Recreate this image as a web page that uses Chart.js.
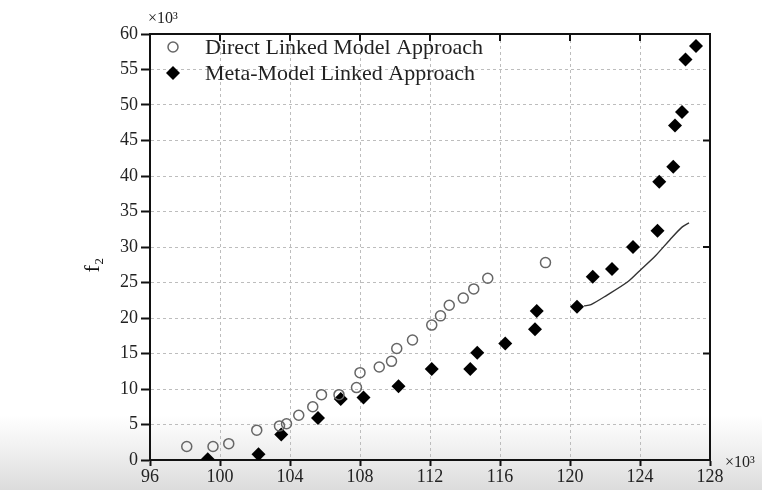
<!DOCTYPE html>
<html>
<head>
<meta charset="utf-8">
<script src="https://cdn.jsdelivr.net/npm/chart.js@4.4.1/dist/chart.umd.min.js"></script>
<style>
    html, body { margin: 0; padding: 0; }
    body {
        width: 762px; height: 490px; overflow: hidden;
        background: linear-gradient(to bottom, #ffffff 0px, #ffffff 415px, #f2f2f2 445px, #dcdcdc 490px);
    }
</style>
</head>
<body>
<canvas id="chart" width="762" height="490"></canvas>
<script>
// values in thousands (axes show x10^3)
const directX = [98.1, 99.6, 100.5, 102.1, 103.4, 103.8, 104.5, 105.3, 105.8, 106.8, 107.8, 108.0, 109.1, 109.8, 110.1, 111.0, 112.1, 112.6, 113.1, 113.9, 114.5, 115.3, 118.6];
const directY = [1.9, 1.9, 2.3, 4.2, 4.8, 5.1, 6.3, 7.5, 9.2, 9.2, 10.2, 12.3, 13.1, 13.9, 15.7, 16.9, 19.0, 20.3, 21.8, 22.8, 24.1, 25.6, 27.8];

const metaX = [99.3, 102.2, 103.5, 105.6, 106.9, 108.2, 110.2, 112.1, 114.3, 114.7, 116.3, 118.0, 118.1, 120.4, 121.3, 122.4, 123.6, 125.0, 125.1, 125.9, 126.0, 126.4, 126.6, 127.2];
const metaY = [0.1, 0.8, 3.6, 5.9, 8.6, 8.8, 10.4, 12.8, 12.8, 15.1, 16.4, 18.4, 21.0, 21.6, 25.8, 26.9, 30.0, 32.3, 39.2, 41.3, 47.1, 49.0, 56.4, 58.3];

const curveX = [120.8, 121.2, 122.1, 123.3, 124.0, 124.9, 125.7, 126.4, 126.8];
const curveY = [21.7, 21.9, 23.2, 25.1, 26.7, 28.8, 31.0, 32.8, 33.4];

const xTickValues = [96, 100, 104, 108, 112, 116, 120, 124, 128];
const yTickValues = [0, 5, 10, 15, 20, 25, 30, 35, 40, 45, 50, 55, 60];
const rightTickValues = [15, 30, 45];

const seriesNames = ['Direct Linked Model Approach', 'Meta-Model Linked Approach'];
const yTitle = 'f₂';
const multiplier = '×10³';

const SERIF = '"Liberation Serif", "Times New Roman", serif';

function toPoints(xs, ys) {
    return xs.map((x, i) => ({ x: x, y: ys[i] }));
}

// frame, inner ticks, legend and labels drawn from the chart's own scales
const extrasPlugin = {
    id: 'extras',
    afterDraw(chart) {
        const ctx = chart.ctx;
        const area = chart.chartArea;
        const xs = chart.scales.x;
        const ys = chart.scales.y;
        ctx.save();

        ctx.strokeStyle = '#111';
        ctx.lineWidth = 2;
        ctx.beginPath();
        ctx.moveTo(area.left - 1, area.top);
        ctx.lineTo(area.right, area.top);
        ctx.lineTo(area.right, area.bottom + 1);
        ctx.stroke();

        xTickValues.slice(1, -1).forEach(v => {
            const px = xs.getPixelForValue(v);
            ctx.beginPath();
            ctx.moveTo(px, area.top);
            ctx.lineTo(px, area.top + 7);
            ctx.stroke();
        });
        rightTickValues.forEach(v => {
            const py = ys.getPixelForValue(v);
            ctx.beginPath();
            ctx.moveTo(area.right, py);
            ctx.lineTo(area.right - 7, py);
            ctx.stroke();
        });

        // legend
        const lx = area.left + 23;
        const tx = area.left + 55;
        ctx.lineWidth = 1.5;
        ctx.strokeStyle = '#666';
        ctx.beginPath();
        ctx.arc(lx, 47, 5, 0, Math.PI * 2);
        ctx.stroke();
        ctx.fillStyle = '#000';
        ctx.beginPath();
        ctx.moveTo(lx, 73 - 7);
        ctx.lineTo(lx + 7, 73);
        ctx.lineTo(lx, 73 + 7);
        ctx.lineTo(lx - 7, 73);
        ctx.closePath();
        ctx.fill();

        ctx.fillStyle = '#222';
        ctx.font = '22px ' + SERIF;
        ctx.textBaseline = 'middle';
        ctx.textAlign = 'left';
        ctx.fillText(seriesNames[0], tx, 48);
        ctx.fillText(seriesNames[1], tx, 74);

        // multipliers
        ctx.font = '16px ' + SERIF;
        ctx.fillText(multiplier, area.left - 2, 19);
        ctx.fillText(multiplier, area.right + 15, 463);

        // y title, rotated
        ctx.translate(93, 265);
        ctx.rotate(-Math.PI / 2);
        ctx.textAlign = 'center';
        ctx.fillStyle = '#111';
        ctx.font = '22px ' + SERIF;
        ctx.fillText(yTitle, 0, 0);

        ctx.restore();
    }
};

new Chart(document.getElementById('chart'), {
    type: 'scatter',
    data: {
        datasets: [
            {
                label: seriesNames[0],
                data: toPoints(directX, directY),
                pointStyle: 'circle',
                pointRadius: 5,
                pointBorderWidth: 1.5,
                pointBorderColor: '#666',
                pointBackgroundColor: 'rgba(255,255,255,0)'
            },
            {
                label: seriesNames[1],
                data: toPoints(metaX, metaY),
                pointStyle: 'rectRot',
                pointRadius: 7,
                pointBorderWidth: 0,
                pointBorderColor: '#000',
                pointBackgroundColor: '#000'
            },
            {
                label: 'curve',
                data: toPoints(curveX, curveY),
                showLine: true,
                pointRadius: 0,
                borderColor: '#333',
                borderWidth: 1.4,
                tension: 0.3
            }
        ]
    },
    options: {
        responsive: false,
        animation: false,
        events: [],
        layout: { padding: { left: 80, top: 34, right: 52, bottom: 0 } },
        plugins: {
            legend: { display: false },
            tooltip: { enabled: false }
        },
        scales: {
            x: {
                type: 'linear',
                min: 96,
                max: 128,
                afterBuildTicks: s => { s.ticks = xTickValues.map(v => ({ value: v })); },
                afterFit: s => { s.height = 30; },
                ticks: { font: { family: SERIF, size: 18 }, color: '#222', padding: 0, maxRotation: 0 },
                grid: { color: '#bdbdbd', lineWidth: 1, tickColor: '#111', tickWidth: 2, tickLength: 6 },
                border: { color: '#111', width: 2, dash: [3, 3] }
            },
            y: {
                type: 'linear',
                min: 0,
                max: 60,
                afterBuildTicks: s => { s.ticks = yTickValues.map(v => ({ value: v })); },
                afterFit: s => { s.width = 70; },
                ticks: { font: { family: SERIF, size: 18 }, color: '#222', padding: 3 },
                grid: { color: '#bdbdbd', lineWidth: 1, tickColor: '#111', tickWidth: 2, tickLength: 9 },
                border: { color: '#111', width: 2, dash: [3, 3] }
            }
        }
    },
    plugins: [extrasPlugin]
});
</script>
</body>
</html>
